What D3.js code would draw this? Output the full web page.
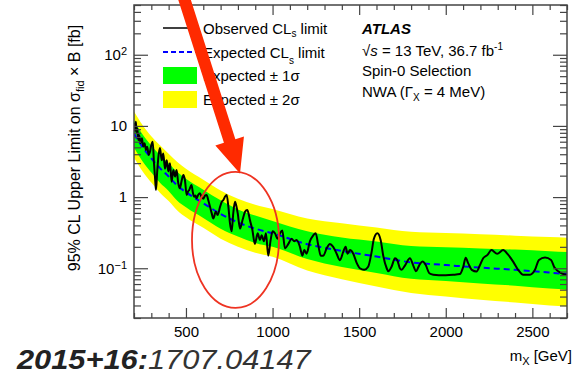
<!DOCTYPE html>
<html>
<head>
<meta charset="utf-8">
<script src="https://cdn.jsdelivr.net/npm/d3@7"></script>
<style>
  body{margin:0;background:#fff;}
  text{font-family:"Liberation Sans",Arial,Helvetica,sans-serif;fill:#000;}
</style>
</head>
<body>
<div class="resultplot"></div>
<script>
// expected limit and bands (fb) on a mass grid (GeV)
var massGrid = [200,250,300,350,400,450,500,600,700,800,900,1000,1200,1400,1600,1800,2000,2200,2400,2600,2700];
var expected = [7.8,5.0,3.5,2.55,1.95,1.45,1.17,0.82,0.58,0.44,0.36,0.31,0.218,0.175,0.146,0.121,0.111,0.102,0.095,0.087,0.083];
var plus2 = [15.9,10.2,7.15,5.33,4.07,3.1,2.5,1.75,1.24,0.95,0.78,0.68,0.5,0.43,0.375,0.325,0.313,0.301,0.287,0.275,0.269];
var plus1 = [11.8,7.57,5.3,3.9,2.99,2.25,1.81,1.27,0.9,0.67,0.55,0.46,0.33,0.27,0.237,0.205,0.197,0.19,0.183,0.174,0.169];
var minus1 = [4.92,3.16,2.21,1.59,1.22,0.89,0.72,0.51,0.36,0.28,0.227,0.2,0.135,0.104,0.086,0.071,0.066,0.061,0.057,0.052,0.05];
var minus2 = [3.57,2.29,1.6,1.15,0.88,0.65,0.52,0.37,0.26,0.2,0.165,0.145,0.093,0.07,0.0555,0.045,0.04,0.036,0.033,0.03,0.029];

// observed limit
var obsMass = [200,205,211,215,219,225,230,238,246,253,261,269,276,285,292,300,308,315,323,327,334,342,350,360,369,379,389,398,408,417,427,437,446,455,465,475,485,494,504,512,519,532,540,548,555,561,571,581,590,600,610,619,629,639,648,658,672,683,697,706,716,726,735,745,754,764,773,783,791,799,812,827,841,854,862,869,883,898,914,927,937,950,962,975,989,1000,1014,1029,1043,1056,1072,1091,1110,1125,1139,1158,1172,1183,1196,1216,1235,1249,1264,1278,1293,1312,1331,1350,1370,1389,1408,1422,1433,1447,1466,1485,1504,1529,1552,1572,1585,1605,1624,1639,1659,1668,1687,1707,1720,1735,1745,1765,1793,1812,1828,1847,1866,1885,1905,1928,1960,2000,2043,2082,2101,2115,2130,2150,2178,2197,2216,2241,2264,2297,2331,2360,2389,2418,2447,2486,2515,2538,2573,2608,2627,2669,2700];
var obsLimit = [11.0,8.5,11.4,7.9,9.3,6.3,7.4,5.7,6.7,5.1,5.7,4.6,5.1,3.9,4.3,5.4,6.0,3.1,1.64,1.26,2.3,3.9,4.9,3.3,4.1,2.5,3.3,2.3,3.0,1.64,2.4,1.94,2.4,1.6,1.33,1.7,2.04,1.74,1.07,1.2,1.26,1.48,1.15,1.01,1.05,0.96,1.08,1.13,1.0,0.95,1.05,1.07,0.9,0.73,0.6,0.5,0.62,0.56,0.73,0.85,0.91,1.02,1.07,0.73,0.43,0.33,0.59,0.86,0.75,0.59,0.36,0.48,0.62,0.66,0.58,0.48,0.35,0.22,0.31,0.25,0.29,0.24,0.31,0.15,0.25,0.33,0.31,0.26,0.31,0.34,0.19,0.22,0.26,0.24,0.25,0.2,0.15,0.18,0.16,0.24,0.29,0.31,0.21,0.15,0.15,0.19,0.22,0.2,0.16,0.13,0.17,0.2,0.16,0.18,0.16,0.12,0.1,0.095,0.105,0.17,0.26,0.31,0.25,0.15,0.1,0.091,0.105,0.138,0.13,0.1,0.095,0.11,0.138,0.11,0.091,0.11,0.124,0.11,0.085,0.081,0.08,0.08,0.081,0.083,0.105,0.14,0.117,0.095,0.09,0.11,0.138,0.154,0.18,0.16,0.18,0.155,0.124,0.095,0.081,0.081,0.095,0.131,0.142,0.131,0.103,0.085,0.081];

var xTicks = [500,1000,1500,2000,2500];
var yTicks = [0.1,1,10,100];
var yTickBase = ["10","1","10","10"];
var yTickSup = ["\u22121","","","2"];
var legendNames = ["Expected \u00b1 1\u03c3","Expected \u00b1 2\u03c3"];
var infoLines = ["Spin-0 Selection"];

var W=576, H=375;
var fr={left:134, right:567, top:5, bottom:318};

var svg=d3.select(".resultplot").append("svg")
  .attr("width", W)
  .attr("height", H);

var x=d3.scaleLinear().domain([200,2700]).range([fr.left,fr.right]);
var y=d3.scaleLog().domain([0.02,500]).range([fr.bottom,fr.top]);

svg.append("clipPath").attr("id","clip")
  .append("rect")
  .attr("x",fr.left).attr("y",fr.top)
  .attr("width",fr.right-fr.left).attr("height",fr.bottom-fr.top);

var plot=svg.append("g").attr("clip-path","url(#clip)");

var band=function(lo,hi){
  return d3.area()
    .x(function(d,i){return x(massGrid[i]);})
    .y0(function(d,i){return y(lo[i]);})
    .y1(function(d,i){return y(hi[i]);})
    .curve(d3.curveMonotoneX);
};

plot.append("path").datum(massGrid)
  .attr("d", band(minus2,plus2))
  .attr("fill","#ffff00");
plot.append("path").datum(massGrid)
  .attr("d", band(minus1,plus1))
  .attr("fill","#00ff00");

var expLine=d3.line()
  .x(function(d,i){return x(massGrid[i]);})
  .y(function(d){return y(d);})
  .curve(d3.curveMonotoneX);

plot.append("path").datum(expected)
  .attr("d", expLine)
  .attr("fill","none")
  .attr("stroke","#0000ff")
  .attr("stroke-width",2)
  .attr("stroke-dasharray","6,4");

var obsLine=d3.line()
  .x(function(d,i){return x(obsMass[i]);})
  .y(function(d){return y(d);})
  .curve(d3.curveMonotoneX);

plot.append("path").datum(obsLimit)
  .attr("d", obsLine)
  .attr("fill","none")
  .attr("stroke","#000")
  .attr("stroke-width",2)
  .attr("stroke-linejoin","round");

// axes (ROOT style ticks pointing inwards)
var axisCol="#444";
var xMinor=d3.range(200,2701,100).filter(function(d){return d%500!==0;});
var yMinor=[];
[0.01,0.1,1,10,100].forEach(function(dec){
  for(var k=2;k<10;k++){
    var v=dec*k;
    if(v>=0.02 && v<=500) yMinor.push(v);
  }
});

function styleAxis(g){
  g.select(".domain").remove();
  g.selectAll(".tick line").attr("stroke",axisCol).attr("stroke-width",1.2);
}

svg.append("g").attr("transform","translate(0,"+fr.bottom+")")
  .call(d3.axisBottom(x).tickValues(xMinor).tickSize(-5).tickFormat(""))
  .call(styleAxis);
var xb=svg.append("g").attr("transform","translate(0,"+fr.bottom+")")
  .call(d3.axisBottom(x).tickValues(xTicks).tickSize(-10).tickPadding(8).tickFormat(d3.format("d")))
  .call(styleAxis);
xb.selectAll(".tick text").attr("font-size",15).attr("font-family","Liberation Sans, Arial").attr("fill","#000");

svg.append("g").attr("transform","translate(0,"+fr.top+")")
  .call(d3.axisTop(x).tickValues(xMinor).tickSize(-5).tickFormat(""))
  .call(styleAxis);
svg.append("g").attr("transform","translate(0,"+fr.top+")")
  .call(d3.axisTop(x).tickValues(xTicks).tickSize(-10).tickFormat(""))
  .call(styleAxis);

svg.append("g").attr("transform","translate("+fr.left+",0)")
  .call(d3.axisLeft(y).tickValues(yMinor).tickSize(-7).tickFormat(""))
  .call(styleAxis);
var yl=svg.append("g").attr("transform","translate("+fr.left+",0)")
  .call(d3.axisLeft(y).tickValues(yTicks).tickSize(-14).tickPadding(7).tickFormat(""))
  .call(styleAxis);
yl.selectAll(".tick text")
  .attr("font-size",15).attr("font-family","Liberation Sans, Arial").attr("fill","#000")
  .each(function(d,i){
    var t=d3.select(this);
    t.append("tspan").text(yTickBase[i]);
    if(yTickSup[i]) t.append("tspan").attr("dy","-0.45em").attr("font-size",11).text(yTickSup[i]);
  });

svg.append("g").attr("transform","translate("+fr.right+",0)")
  .call(d3.axisRight(y).tickValues(yMinor).tickSize(-7).tickFormat(""))
  .call(styleAxis);
svg.append("g").attr("transform","translate("+fr.right+",0)")
  .call(d3.axisRight(y).tickValues(yTicks).tickSize(-14).tickFormat(""))
  .call(styleAxis);

svg.append("rect")
  .attr("x",fr.left).attr("y",fr.top)
  .attr("width",fr.right-fr.left).attr("height",fr.bottom-fr.top)
  .attr("fill","none").attr("stroke",axisCol).attr("stroke-width",1.5);

// axis titles
var yt=svg.append("text")
  .attr("transform","translate(80,148) rotate(-90)")
  .attr("text-anchor","middle")
  .attr("font-size",16);
yt.append("tspan").text("95% CL Upper Limit on \u03c3");
yt.append("tspan").attr("dy",4).attr("font-size",11).text("fid");
yt.append("tspan").attr("dy",-4).text(" \u00d7 B [fb]");

var xt=svg.append("text")
  .attr("x",572).attr("y",361)
  .attr("text-anchor","end")
  .attr("font-size",15);
xt.append("tspan").text("m");
xt.append("tspan").attr("dy",4).attr("font-size",11).text("X");
xt.append("tspan").attr("dy",-4).text(" [GeV]");

// legend
var lx0=163, lx1=197, tx=203;
svg.append("line").attr("x1",lx0).attr("x2",lx1).attr("y1",28).attr("y2",28)
  .attr("stroke","#000").attr("stroke-width",1.5);
svg.append("line").attr("x1",lx0).attr("x2",lx1).attr("y1",52).attr("y2",52)
  .attr("stroke","#0000ff").attr("stroke-width",2).attr("stroke-dasharray","5,3");
svg.append("rect").attr("x",lx0).attr("y",67).attr("width",lx1-lx0).attr("height",17).attr("fill","#00ff00");
svg.append("rect").attr("x",lx0).attr("y",91).attr("width",lx1-lx0).attr("height",17).attr("fill","#ffff00");

var l1=svg.append("text").attr("x",tx).attr("y",33.5).attr("font-size",15);
l1.append("tspan").text("Observed CL");
l1.append("tspan").attr("dy",3).attr("font-size",10).text("s");
l1.append("tspan").attr("dy",-3).text(" limit");
var l2=svg.append("text").attr("x",tx).attr("y",57.5).attr("font-size",15);
l2.append("tspan").text("Expected CL");
l2.append("tspan").attr("dy",6).attr("font-size",10).text("s");
l2.append("tspan").attr("dy",-6).text(" limit");
svg.selectAll(".legtext").data(legendNames).enter().append("text")
  .attr("class","legtext")
  .attr("x",tx)
  .attr("y",function(d,i){return 81+i*23.5;})
  .attr("font-size",15)
  .text(function(d){return d;});

// ATLAS label
var ix=362;
svg.append("text").attr("x",ix).attr("y",33.5)
  .attr("font-size",15).attr("font-weight","bold").attr("font-style","italic")
  .text("ATLAS");
var s1=svg.append("text").attr("x",ix).attr("y",55.5).attr("font-size",15);
s1.append("tspan").text("\u221a");
s1.append("tspan").attr("font-style","italic").text("s");
s1.append("tspan").text(" = 13 TeV, 36.7 fb");
s1.append("tspan").attr("dy",-6).attr("font-size",10).text("-1");
svg.append("text").attr("x",ix).attr("y",76).attr("font-size",15).text(infoLines[0]);
var s3=svg.append("text").attr("x",ix).attr("y",96.5).attr("font-size",15);
s3.append("tspan").text("NWA (\u0393");
s3.append("tspan").attr("dy",4).attr("font-size",10).text("X");
s3.append("tspan").attr("dy",-4).text(" = 4 MeV)");

// bottom reference label (slightly stretched, like the original)
var ref=svg.append("text")
  .attr("transform","translate(17,368.5) scale(1.1,1)")
  .attr("font-size",28).attr("font-style","italic");
ref.append("tspan").attr("font-weight","bold").attr("fill","#222").text("2015+16:");
ref.append("tspan").attr("fill","#333").text("1707.04147");

// red annotation: ellipse and arrow
var ellC=[x(786), y(0.25)];
svg.append("ellipse")
  .attr("cx",ellC[0]).attr("cy",ellC[1])
  .attr("rx",43.5).attr("ry",68)
  .attr("fill","none").attr("stroke","#ee3322").attr("stroke-width",1.8);

var tail=[183,-5], tip=[x(812), y(2.15)];
var dx=tip[0]-tail[0], dy=tip[1]-tail[1], L=Math.sqrt(dx*dx+dy*dy);
var u=[dx/L,dy/L], n=[-u[1],u[0]];
var hl=34, hw=15, sw=6;
var neck=[tip[0]-u[0]*hl, tip[1]-u[1]*hl];
var pts=[
  [tail[0]+n[0]*sw, tail[1]+n[1]*sw],
  [neck[0]+n[0]*sw, neck[1]+n[1]*sw],
  [neck[0]+n[0]*hw, neck[1]+n[1]*hw],
  tip,
  [neck[0]-n[0]*hw, neck[1]-n[1]*hw],
  [neck[0]-n[0]*sw, neck[1]-n[1]*sw],
  [tail[0]-n[0]*sw, tail[1]-n[1]*sw]
];
svg.append("polygon")
  .attr("points", pts.map(function(p){return p.join(",");}).join(" "))
  .attr("fill","#ff2a00");
</script>
</body>
</html>
